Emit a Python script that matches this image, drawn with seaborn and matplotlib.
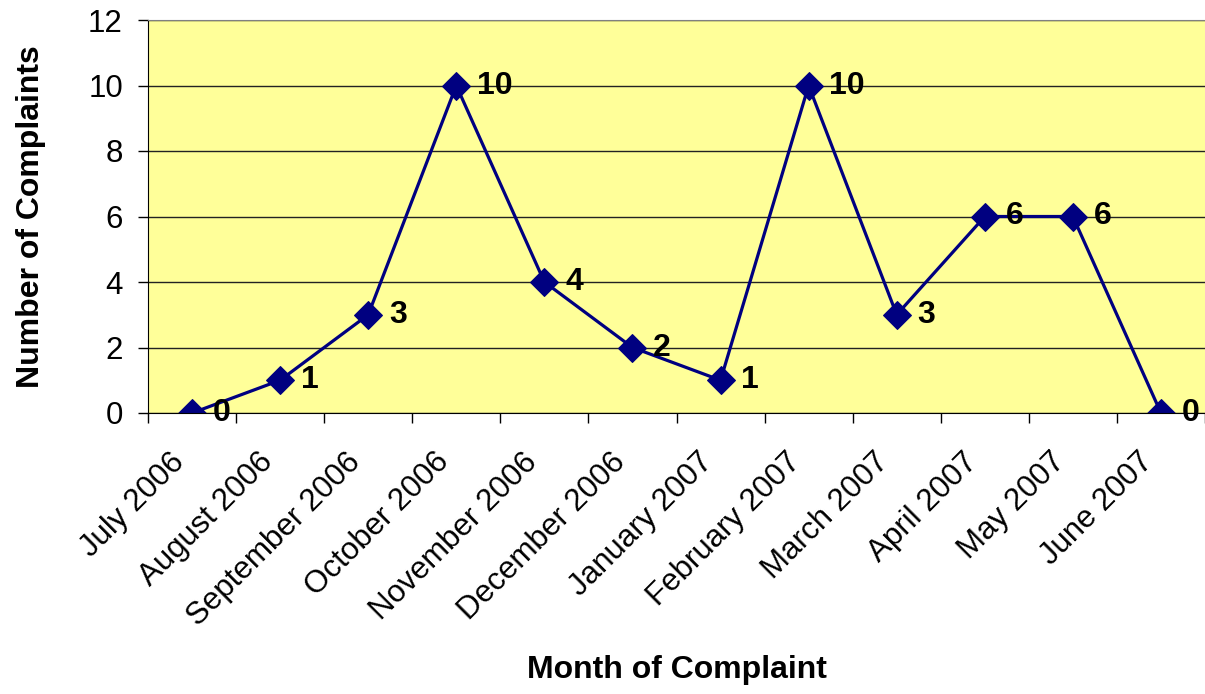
import matplotlib
matplotlib.use("Agg")
import matplotlib.pyplot as plt
import matplotlib.transforms as mtransforms
import seaborn as sns
import pandas as pd
import numpy as np

months = ["July 2006", "August 2006", "September 2006", "October 2006",
          "November 2006", "December 2006", "January 2007", "February 2007",
          "March 2007", "April 2007", "May 2007", "June 2007"]
complaints = [0, 1, 3, 10, 4, 2, 1, 10, 3, 6, 6, 0]

if __name__ == "__main__":
    sns.set_style("ticks")
    plt.rcParams["font.family"] = ["Liberation Sans", "DejaVu Sans"]
    plt.rcParams["text.color"] = "black"
    plt.rcParams["axes.labelcolor"] = "black"
    plt.rcParams["xtick.color"] = "black"
    plt.rcParams["ytick.color"] = "black"

    df = pd.DataFrame({"month": months, "count": complaints})
    pos = np.arange(len(months))

    fig = plt.figure(figsize=(12.05, 6.94), dpi=100)
    ax = fig.add_axes([148 / 1205, 281 / 694, 1057 / 1205, 393 / 694])
    ax.set_facecolor("#FFFF99")

    sns.lineplot(x=pos, y=df["count"], ax=ax, color="#000080", linewidth=2.3,
                 marker="D", markersize=14.5, markeredgecolor="#000080",
                 sort=False)

    for x, y in zip(pos, df["count"]):
        ax.annotate(str(y), (x, y), xytext=(15, 0), textcoords="offset points",
                    ha="left", va="center", fontsize=23, fontweight="bold",
                    color="black")

    ax.set_xlim(-0.5, len(months) - 0.5)
    ax.set_ylim(0, 12)
    ax.set_yticks(range(0, 13, 2))
    ax.yaxis.grid(True, color="#222222", linewidth=1)
    ax.set_axisbelow(True)

    ax.set_xticks(pos)
    ax.set_xticklabels(df["month"], rotation=45, ha="right", va="center",
                       rotation_mode="anchor", fontsize=22.5)
    ax.set_xticks(np.arange(-0.5, len(months), 1), minor=True)
    ax.tick_params(axis="x", which="major", length=0, pad=32)
    ax.tick_params(axis="x", which="minor", length=7, width=1, color="black")
    ax.tick_params(axis="y", length=7, width=1, labelsize=22.5, pad=11)

    # nudge month labels a little left, like the original
    shift = mtransforms.ScaledTranslation(-12 / 100, 0, fig.dpi_scale_trans)
    for lbl in ax.get_xticklabels():
        lbl.set_transform(lbl.get_transform() + shift)

    ax.spines["left"].set_color("black")
    ax.spines["bottom"].set_color("black")
    ax.spines["top"].set_color("#808080")
    ax.spines["right"].set_visible(False)

    ax.set_xlabel("Month of Complaint", fontsize=23, fontweight="bold",
                  labelpad=17)
    ax.set_ylabel("Number of Complaints", fontsize=23, fontweight="bold",
                  labelpad=30)

    fig.savefig("out.png", dpi=100)
